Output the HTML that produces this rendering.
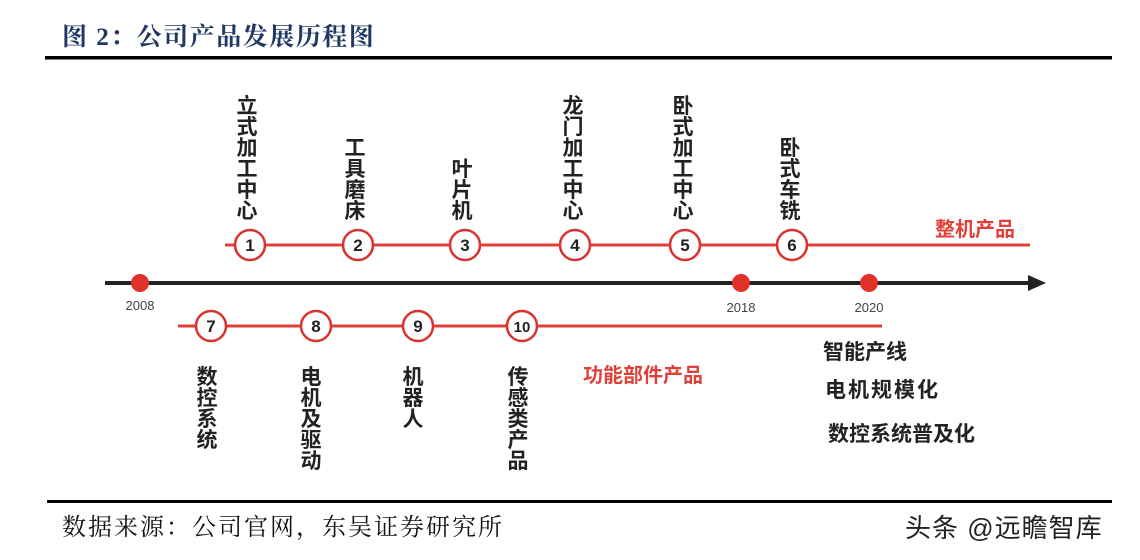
<!DOCTYPE html>
<html><head><meta charset="utf-8"><style>
html,body{margin:0;padding:0;background:#fff;}
svg{display:block;}
.v{font-family:"Liberation Sans","Noto Sans CJK SC",sans-serif;font-weight:bold;font-size:21px;fill:#222;text-anchor:middle;}
.n{font-family:"Liberation Sans",sans-serif;font-weight:bold;font-size:17px;fill:#222;text-anchor:middle;}
.y{font-family:"Liberation Sans",sans-serif;font-size:13px;fill:#444;text-anchor:middle;}
.r{font-family:"Liberation Sans","Noto Sans CJK SC",sans-serif;font-weight:bold;font-size:20px;fill:#e0403a;}
.k{font-family:"Liberation Sans","Noto Sans CJK SC",sans-serif;font-weight:bold;font-size:21px;fill:#222;}
</style></head><body>
<svg width="1140" height="560" viewBox="0 0 1140 560">
<text x="62" y="45" font-family="'Liberation Serif','Noto Serif CJK SC',serif" font-weight="bold" font-size="25" letter-spacing="1.5" fill="#1f3864">图 2：公司产品发展历程图</text>
<rect x="45" y="56" width="1067" height="3.5" fill="#000"/>
<line x1="225" y1="245" x2="1030" y2="245" stroke="#e0403a" stroke-width="3"/>
<g fill="#fff" stroke="#d9342e" stroke-width="2.5">
<circle cx="250" cy="245" r="15"/><circle cx="358" cy="245" r="15"/><circle cx="465" cy="245" r="15"/>
<circle cx="575" cy="245" r="15"/><circle cx="685" cy="245" r="15"/><circle cx="792" cy="245" r="15"/>
</g>
<g class="n">
<text x="250" y="251">1</text><text x="358" y="251">2</text><text x="465" y="251">3</text>
<text x="575" y="251">4</text><text x="685" y="251">5</text><text x="792" y="251">6</text>
</g>
<g class="v">
<text x="247" y="113">立</text><text x="247" y="134">式</text><text x="247" y="155">加</text><text x="247" y="176">工</text><text x="247" y="197">中</text><text x="247" y="218">心</text>
<text x="355" y="155">工</text><text x="355" y="176">具</text><text x="355" y="197">磨</text><text x="355" y="218">床</text>
<text x="462" y="176">叶</text><text x="462" y="197">片</text><text x="462" y="218">机</text>
<text x="573" y="113">龙</text><text x="573" y="134">门</text><text x="573" y="155">加</text><text x="573" y="176">工</text><text x="573" y="197">中</text><text x="573" y="218">心</text>
<text x="683" y="113">卧</text><text x="683" y="134">式</text><text x="683" y="155">加</text><text x="683" y="176">工</text><text x="683" y="197">中</text><text x="683" y="218">心</text>
<text x="790" y="155">卧</text><text x="790" y="176">式</text><text x="790" y="197">车</text><text x="790" y="218">铣</text>
</g>
<text class="r" x="935" y="236">整机产品</text>
<line x1="105" y1="283" x2="1030" y2="283" stroke="#222" stroke-width="4"/>
<polygon points="1028,275 1046,283 1028,291" fill="#222"/>
<g fill="#e0302a"><circle cx="140" cy="283" r="9"/><circle cx="741" cy="283" r="9"/><circle cx="869" cy="283" r="9"/></g>
<text class="y" x="140" y="310">2008</text><text class="y" x="741" y="312">2018</text><text class="y" x="869" y="312">2020</text>
<line x1="178" y1="326" x2="882" y2="326" stroke="#e0403a" stroke-width="3"/>
<g fill="#fff" stroke="#d9342e" stroke-width="2.5">
<circle cx="211" cy="326" r="15"/><circle cx="316" cy="326" r="15"/><circle cx="418" cy="326" r="15"/><circle cx="522" cy="326" r="15"/>
</g>
<g class="n">
<text x="211" y="332">7</text><text x="316" y="332">8</text><text x="418" y="332">9</text><text x="522" y="332" font-size="15">10</text>
</g>
<g class="v">
<text x="207" y="384">数</text><text x="207" y="405">控</text><text x="207" y="426">系</text><text x="207" y="447">统</text>
<text x="311" y="384">电</text><text x="311" y="405">机</text><text x="311" y="426">及</text><text x="311" y="447">驱</text><text x="311" y="468">动</text>
<text x="413" y="384">机</text><text x="413" y="405">器</text><text x="413" y="426">人</text>
<text x="518" y="384">传</text><text x="518" y="405">感</text><text x="518" y="426">类</text><text x="518" y="447">产</text><text x="518" y="468">品</text>
</g>
<text class="r" x="583" y="382" font-size="21">功能部件产品</text>
<text class="k" x="823" y="359">智能产线</text>
<text class="k" x="825" y="397" letter-spacing="2">电机规模化</text>
<text class="k" x="828" y="441">数控系统普及化</text>
<rect x="47" y="500" width="1065" height="3" fill="#000"/>
<text x="62" y="535" font-family="'Liberation Serif','Noto Serif CJK SC',serif" font-size="24" letter-spacing="2" fill="#111">数据来源：公司官网，东吴证券研究所</text>
<text x="905" y="537" font-family="'Liberation Sans','Noto Sans CJK SC',sans-serif" font-size="26" letter-spacing="1" fill="#222">头条 @远瞻智库</text>
</svg>
</body></html>
